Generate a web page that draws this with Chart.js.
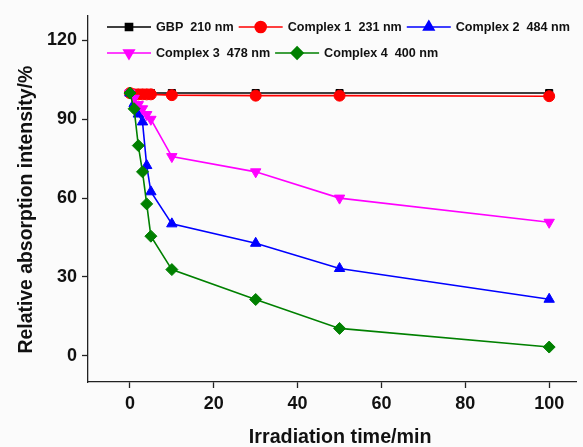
<!DOCTYPE html>
<html lang="en">
<head>
<meta charset="UTF-8" />
<title>Relative absorption intensity vs irradiation time</title>
<script src="https://cdn.jsdelivr.net/npm/chart.js"></script>
<style>
  html, body { margin: 0; padding: 0; background: #fbfbfb; }
  #wrap { width: 583px; height: 447px; position: relative; }
</style>
</head>
<body>
<div id="wrap"><canvas id="chart"></canvas></div>
<script>
// irradiation time points (min)
const times = [0, 1, 2, 3, 4, 5, 10, 30, 50, 100];

// relative absorption intensity (%)
const gbp      = [100, 100, 100, 100, 100, 100, 100, 100, 100, 100];
const complex1 = [100, 99.5, 99.5, 99.5, 99.5, 99.5, 99.2, 99, 99, 98.8];
const complex2 = [100, 96, 92, 89, 72.4, 62.4, 50.2, 42.8, 33.2, 21.5];
const complex3 = [100, 98, 95.6, 94, 91.8, 90, 75.8, 70, 60, 50.8];
const complex4 = [100, 94, 80, 70, 57.8, 45.5, 32.8, 21.4, 10.4, 3.3];

const seriesNames = ["GBP  210 nm", "Complex 1  231 nm", "Complex 2  484 nm",
                     "Complex 3  478 nm", "Complex 4  400 nm"];
const seriesData = [gbp, complex1, complex2, complex3, complex4];
const colors = ["#000000", "#ff0000", "#0000ff", "#ff00ff", "#008000"];
const styles = ["rect", "circle", "triangle", "triangle", "rectRot"];
const rotations = [0, 0, 0, 180, 0];
const radii = [5, 5.5, 6, 6, 6];

const xTicks = [0, 20, 40, 60, 80, 100];
const yTicks = [0, 30, 60, 90, 120];

const datasets = seriesData.map((vals, i) => ({
    label: seriesNames[i],
    data: vals.map((v, j) => ({ x: times[j], y: v })),
    showLine: true,
    borderColor: colors[i],
    backgroundColor: colors[i],
    borderWidth: 1.6,
    pointStyle: styles[i],
    pointRotation: rotations[i],
    pointRadius: radii[i],
    pointBorderWidth: 1,
    order: 5 - i,
}));

// legend drawn inside the plot, two rows like the original
const insideLegend = {
    id: "insideLegend",
    afterDatasetsDraw(chart) {
        const ctx = chart.ctx;
        const rows = [[0, 1, 2], [3, 4]];
        const rowY = [27, 53];
        ctx.save();
        ctx.font = "bold 12.6px 'Liberation Sans', Arial, sans-serif";
        ctx.textBaseline = "middle";
        rows.forEach((row, r) => {
            let x = 107;
            const y = rowY[r];
            row.forEach((i) => {
                const ds = chart.data.datasets[i];
                ctx.strokeStyle = ds.borderColor;
                ctx.lineWidth = 1.6;
                ctx.beginPath();
                ctx.moveTo(x, y);
                ctx.lineTo(x + 44, y);
                ctx.stroke();
                ctx.fillStyle = ds.backgroundColor;
                Chart.helpers.drawPoint(ctx, {
                    pointStyle: ds.pointStyle,
                    rotation: ds.pointRotation,
                    radius: ds.pointRadius,
                    borderWidth: 1,
                }, x + 22, y);
                ctx.fillStyle = "#111";
                ctx.fillText(ds.label, x + 49, y + 1);
                x += 49 + ctx.measureText(ds.label).width + 5;
            });
        });
        ctx.restore();
    },
};

new Chart(document.getElementById("chart"), {
    type: "scatter",
    data: { datasets },
    options: {
        responsive: true,
        maintainAspectRatio: false,
        animation: false,
        layout: { padding: { top: 15, right: 0, left: 0, bottom: 0 } },
        plugins: { legend: { display: false }, tooltip: { enabled: false } },
        scales: {
            x: {
                type: "linear",
                min: -10,
                max: 106.4,
                afterBuildTicks: (s) => { s.ticks = xTicks.map((v) => ({ value: v })); },
                afterFit: (s) => { s.height = 65; },
                grid: { drawOnChartArea: false, tickLength: 6, tickColor: "#222", tickWidth: 1.3 },
                border: { color: "#222", width: 1.3 },
                ticks: {
                    color: "#111",
                    padding: 5,
                    maxRotation: 0,
                    font: { family: "'Liberation Sans', Arial, sans-serif", size: 18, weight: "bold" },
                },
                title: {
                    display: true,
                    text: "   Irradiation time/min",
                    color: "#111",
                    padding: { top: 0, bottom: 0 },
                    font: { family: "'Liberation Sans', Arial, sans-serif", size: 19.7, weight: "bold", lineHeight: 1 },
                },
            },
            y: {
                min: -10,
                max: 129.4,
                afterBuildTicks: (s) => { s.ticks = yTicks.map((v) => ({ value: v })); },
                afterFit: (s) => { s.width = 88; },
                grid: { drawOnChartArea: false, tickLength: 6, tickColor: "#222", tickWidth: 1.3 },
                border: { color: "#222", width: 1.3 },
                ticks: {
                    color: "#111",
                    padding: 5,
                    font: { family: "'Liberation Sans', Arial, sans-serif", size: 18, weight: "bold" },
                },
                title: {
                    display: true,
                    text: "Relative absorption intensity/%    ",
                    color: "#111",
                    padding: { top: 17, bottom: 0 },
                    font: { family: "'Liberation Sans', Arial, sans-serif", size: 19.4, weight: "bold", lineHeight: 1 },
                },
            },
        },
    },
    plugins: [insideLegend],
});
</script>
</body>
</html>
